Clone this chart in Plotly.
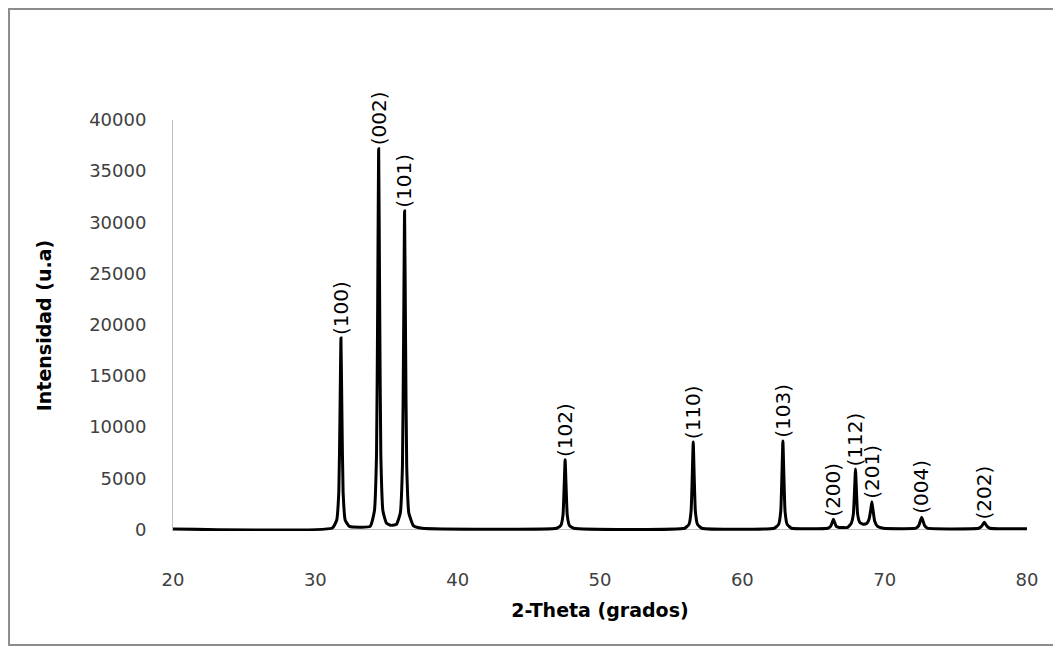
import plotly.graph_objects as go

# Diffraction pattern points (2-theta in degrees, intensity in a.u.)
two_theta = [
    20.0, 31.2,
    31.5, 31.65, 31.73, 31.8, 31.87, 31.95, 32.1, 32.4,
    33.85, 34.15, 34.3, 34.38, 34.45, 34.52, 34.6, 34.75, 35.0,
    35.35,
    35.7, 35.97, 36.12, 36.2, 36.27, 36.34, 36.42, 36.57, 36.9,
    37.5, 46.95,
    47.25, 47.4, 47.48, 47.55, 47.62, 47.7, 47.85, 48.15,
    55.95,
    56.25, 56.4, 56.48, 56.55, 56.62, 56.7, 56.85, 57.15,
    62.25,
    62.55, 62.7, 62.78, 62.85, 62.92, 63.0, 63.15, 63.45,
    66.0, 66.2, 66.32, 66.4, 66.48, 66.6, 66.8,
    67.4, 67.65, 67.8, 67.88, 67.95, 68.02, 68.1, 68.25, 68.5,
    68.75, 68.9, 69.02, 69.1, 69.18, 69.3, 69.5, 69.9,
    72.2, 72.4, 72.52, 72.6, 72.68, 72.8, 73.0,
    76.6, 76.8, 76.92, 77.0, 77.08, 77.2, 77.4,
    80.0,
]
intensity = [
    40, 150,
    900, 3700, 11000, 18700, 11000, 3700, 900, 300,
    300, 1800, 7400, 22000, 37200, 22000, 7400, 1800, 600,
    400,
    500, 1600, 6200, 18500, 31100, 18500, 6200, 1600, 350,
    120, 120,
    400, 1400, 4100, 6800, 4100, 1400, 400, 120,
    120,
    500, 1800, 5100, 8550, 5100, 1800, 500, 120,
    120,
    500, 1800, 5200, 8650, 5200, 1800, 500, 120,
    120, 300, 700, 1000, 700, 300, 200,
    200, 600, 1500, 3700, 5900, 3700, 1500, 700, 500,
    600, 1000, 1900, 2700, 1900, 800, 300, 120,
    120, 400, 900, 1200, 900, 400, 120,
    120, 300, 550, 700, 550, 300, 120,
    60,
]

# Miller-index labels and the peaks they sit on
peak_labels = ["(100)", "(002)", "(101)", "(102)", "(110)", "(103)",
               "(200)", "(112)", "(201)", "(004)", "(202)"]
peak_x = [31.8, 34.45, 36.27, 47.55, 56.55, 62.85, 66.4, 67.95, 69.1, 72.6, 77.0]
peak_y = [18700, 37200, 31100, 6800, 8550, 8650, 1000, 5900, 2700, 1200, 700]

x_ticks = [20, 30, 40, 50, 60, 70, 80]
y_ticks = [0, 5000, 10000, 15000, 20000, 25000, 30000, 35000, 40000]

fig = go.Figure()
fig.add_trace(go.Scatter(
    x=two_theta, y=intensity, mode="lines",
    line=dict(color="black", width=3, shape="spline", smoothing=0.4),
    showlegend=False, hoverinfo="x+y",
))

for lab, px, py in zip(peak_labels, peak_x, peak_y):
    fig.add_annotation(
        x=px, y=py, text=lab, showarrow=False, textangle=-90,
        xanchor="center", yanchor="bottom", yshift=1,
        font=dict(family="DejaVu Sans", size=20, color="black"),
    )

# outer chart border
fig.add_shape(type="rect", xref="paper", yref="paper",
              x0=-0.1920, x1=1.06, y0=-0.2774, y1=1.2701,
              line=dict(color="#8c8c8c", width=2), fillcolor="rgba(0,0,0,0)",
              layer="below")

fig.update_layout(
    width=1045, height=638,
    margin=dict(l=165, r=26, t=112, b=115),
    paper_bgcolor="white", plot_bgcolor="white",
    font=dict(family="DejaVu Sans", color="#404040"),
    xaxis=dict(
        range=[20, 80], tickvals=x_ticks, ticktext=[str(v) for v in x_ticks],
        showgrid=False, zeroline=False,
        showline=False, ticks="", ticklabelstandoff=36,
        tickfont=dict(size=18, color="#404040"),
        title=dict(text="2-Theta (grados)",
                   font=dict(family="DejaVu Sans", size=19, color="black", weight="bold"),
                   standoff=14),
    ),
    yaxis=dict(
        range=[-150, 40000], tickvals=y_ticks, ticktext=[str(v) for v in y_ticks],
        showgrid=False,
        zeroline=True, zerolinecolor="#bfbfbf", zerolinewidth=1,
        showline=True, linecolor="#bfbfbf", linewidth=1, ticks="",
        ticklabelstandoff=22,
        tickfont=dict(size=18, color="#404040"),
        title=dict(text="Intensidad (u.a)",
                   font=dict(family="DejaVu Sans", size=19, color="black", weight="bold"),
                   standoff=32),
    ),
)

fig.write_html("out.html")
